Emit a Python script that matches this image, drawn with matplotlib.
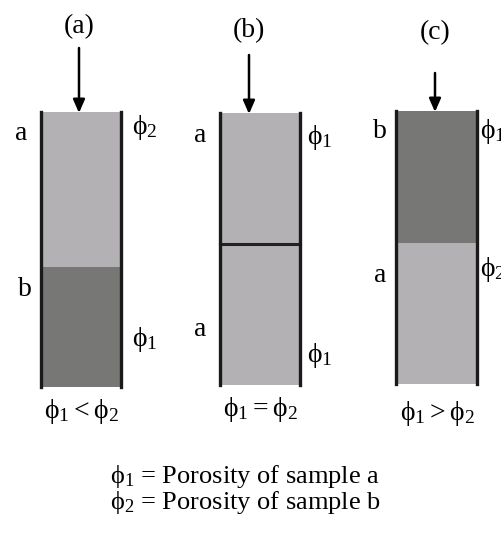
import matplotlib
matplotlib.use('Agg')
import matplotlib.pyplot as plt

plt.rcParams['font.family'] = ['Liberation Serif', 'DejaVu Serif']
plt.rcParams['mathtext.fontset'] = 'custom'
plt.rcParams['mathtext.rm'] = 'Liberation Serif'
plt.rcParams['mathtext.it'] = 'Liberation Serif'

LIGHT = '#b3b1b4'
DARK = '#777876'
PHI = '\u03d5'

# what the diagram says
panel_labels = ['(a)', '(b)', '(c)']
upper_sample = ['a', 'a', 'b']
lower_sample = ['b', 'a', 'a']
upper_phi = ['2', '1', '1']
lower_phi = ['1', '1', '2']
relations = ['<', '=', '>']
legend_lines = ['Porosity of sample a', 'Porosity of sample b']

# layout in pixels (figure is 501 x 534)
wall_l = [41, 220, 396]
wall_r = [121, 300, 477]
col_top = [112, 113, 111]
col_bot = [387, 385, 384]
col_split = [267, 244, 243]
arrow_x = [79, 249, 435]
arrow_from = [48, 55, 73]
title_y = [27, 31, 33]
upper_lab_x = [21, 200, 380]
lower_lab_x = [25, 200, 380]
upper_lab_y = [133, 135, 131]
lower_lab_y = [289, 330, 275]
phi_x = [132, 307, 480]
upper_phi_y = [127, 137, 131]
lower_phi_y = [340, 355, 270]
rel_y = [411, 410, 413]


def phi(n):
    return '$\\mathrm{' + PHI + '}_{' + n + '}$'


fig = plt.figure(figsize=(5.01, 5.34), dpi=100)
ax = fig.add_axes([0, 0, 1, 1])
ax.set_xlim(0, 501)
ax.set_ylim(534, 0)
ax.axis('off')

fs = 20
for i in range(3):
    l, r = wall_l[i], wall_r[i]
    top, bot, sp = col_top[i], col_bot[i], col_split[i]
    up_col = DARK if upper_sample[i] == 'b' else LIGHT
    lo_col = DARK if lower_sample[i] == 'b' else LIGHT
    ax.fill_between([l, r], top, sp, color=up_col, lw=0)
    ax.fill_between([l, r], sp, bot, color=lo_col, lw=0)
    if upper_sample[i] == lower_sample[i]:
        ax.plot([l, r], [sp, sp], color='#222222', lw=2.2)
    ax.plot([l, l], [top, bot], color='#1a1a1a', lw=2.4)
    ax.plot([r, r], [top, bot], color='#1a1a1a', lw=2.4)

    ax.annotate('', xy=(arrow_x[i], top + 1), xytext=(arrow_x[i], arrow_from[i]),
                arrowprops=dict(arrowstyle='-|>,head_length=0.8,head_width=0.35',
                                color='black', lw=1.8, shrinkA=0, shrinkB=0))
    ax.text(arrow_x[i], title_y[i], panel_labels[i], fontsize=fs, ha='center', va='center')

    ax.text(upper_lab_x[i], upper_lab_y[i], upper_sample[i], fontsize=fs,
            ha='center', va='center')
    ax.text(lower_lab_x[i], lower_lab_y[i], lower_sample[i], fontsize=fs,
            ha='center', va='center')
    ax.text(phi_x[i], upper_phi_y[i], phi(upper_phi[i]), fontsize=fs, ha='left', va='center')
    ax.text(phi_x[i], lower_phi_y[i], phi(lower_phi[i]), fontsize=fs, ha='left', va='center')

    rel = ('$\\mathrm{' + PHI + '}_{1}' + relations[i] +
           '\\mathrm{' + PHI + '}_{2}$')
    ax.text((l + r) / 2 + 1, rel_y[i], rel, fontsize=fs, ha='center', va='center')

for k, line in enumerate(legend_lines):
    ax.text(110, 477 + 25 * k, phi(str(k + 1)) + ' = ' + line,
            fontsize=19, ha='left', va='center')

fig.savefig('out.png', dpi=100)
